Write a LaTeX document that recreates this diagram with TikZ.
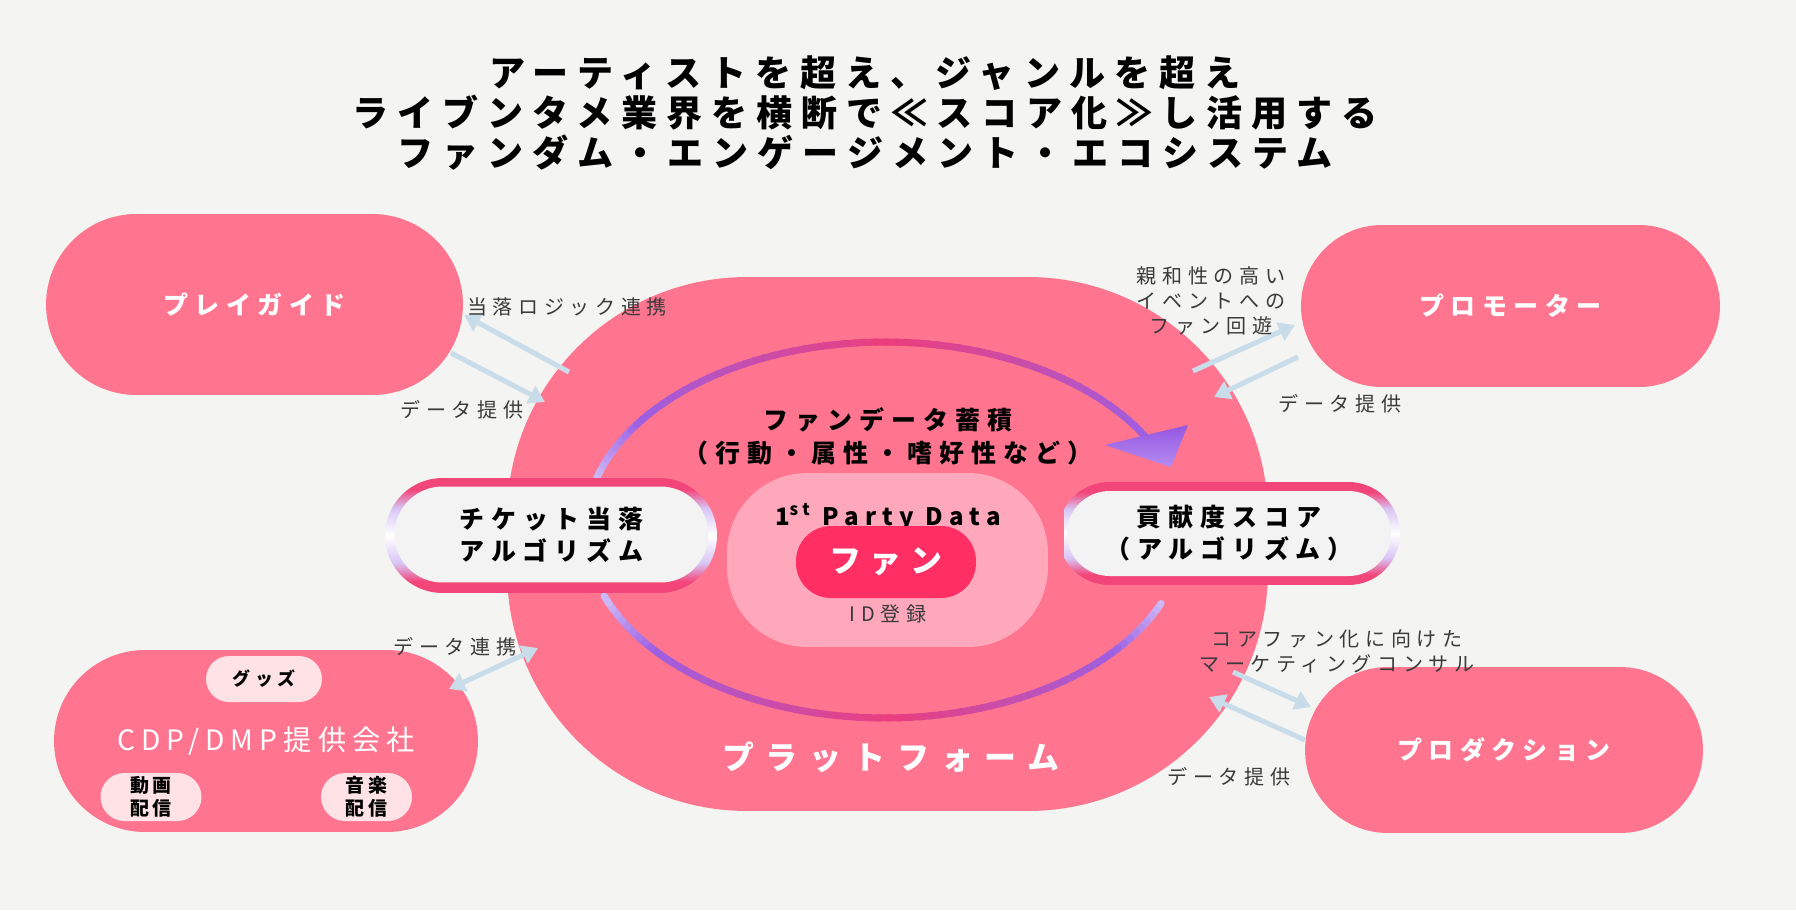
\documentclass[tikz,border=0pt]{standalone}
\usepackage{fontspec}
\usetikzlibrary{arrows.meta,shapes.misc}

\newfontfamily\jp{Noto Sans CJK JP}
\newcommand\jpset[3]{\jp\fontsize{#1}{#2}\selectfont\addfontfeature{LetterSpace=#3}}

\definecolor{bgc}{HTML}{F4F4F2}
\definecolor{pillc}{HTML}{FF758F}
\definecolor{innerc}{HTML}{FFA8BC}
\definecolor{fanc}{HTML}{FF2E63}
\definecolor{subc}{HTML}{FFE2E5}
\definecolor{corec}{HTML}{F3F3F3}
\definecolor{ringpink}{HTML}{F2467B}
\definecolor{ringlav}{HTML}{D8C4F4}
\definecolor{flowc}{HTML}{C9DCEA}
\definecolor{txtc}{HTML}{3A3A3A}
\definecolor{arcpink}{HTML}{EE3D7B}
\definecolor{arcpurp}{HTML}{9C5FE3}
\definecolor{arclav}{HTML}{CDB9F7}
\definecolor{headA}{HTML}{9555E0}
\definecolor{headB}{HTML}{B48CF2}

\pgfdeclareverticalshading{ringshade}{100bp}{color(0bp)=(ringpink); color(30bp)=(ringpink);
  color(38bp)=(ringlav); color(50bp)=(white); color(62bp)=(ringlav); color(70bp)=(ringpink);
  color(100bp)=(ringpink)}

\begin{document}
\begin{tikzpicture}[
  x=0.02cm, y=-0.02cm,
  >={Triangle[length=0.32cm, width=0.38cm]},
  pill/.style={rounded rectangle, fill=pillc, text=white, inner sep=0pt},
  sub/.style={rounded rectangle, fill=subc, align=center, inner sep=0pt,
    font=\bfseries\jpset{10.8pt}{13pt}{20}},
  ring/.style={rounded rectangle, shade, shading=ringshade, inner sep=0pt},
  core/.style={rounded rectangle, fill=corec, align=center, inner sep=0pt,
    font=\bfseries\jpset{14.2pt}{18.2pt}{28}},
  lbl/.style={font=\jpset{11.4pt}{14.2pt}{28}, text=txtc, align=center, inner sep=0pt},
  flow/.style={->, line width=0.1cm, draw=flowc},
  arcseg/.style={line width=0.14cm, line cap=round},
]
  \fill[bgc] (0,0) rectangle (1796,910);
  \useasboundingbox (0,0) rectangle (1796,910);

  \node[font=\bfseries\jpset{20.5pt}{23pt}{25}, align=center] (title) at (865,113)
    {アーティストを超え、ジャンルを超え\\ライブンタメ業界を横断で≪スコア化≫し活用する\\ファンダム・エンゲージメント・エコシステム};

  % platform and the four partners
  \node[fill=pillc, rounded corners=4.8cm, minimum width=15.22cm, minimum height=10.68cm, inner sep=0pt] (plat) at (887.5,544) {};
  \node[font=\bfseries\jpset{18.2pt}{20pt}{37}, text=white] (platlbl) at (891,757) {プラットフォーム};

  \node[pill, minimum width=8.34cm, minimum height=3.62cm, font=\bfseries\jpset{14.2pt}{16pt}{26}] (guide) at (254.5,304.5) {プレイガイド};
  \node[pill, minimum width=8.38cm, minimum height=3.24cm, font=\bfseries\jpset{14.2pt}{16pt}{26}] (promo) at (1510.5,306) {プロモーター};
  \node[pill, minimum width=8.48cm, minimum height=3.64cm, font=\jpset{16pt}{18pt}{22}] (cdp) at (266,741) {CDP/DMP提供会社};
  \node[pill, minimum width=7.96cm, minimum height=3.32cm, font=\bfseries\jpset{14.2pt}{16pt}{26}] (prod) at (1504,750) {プロダクション};

  \node[sub, minimum width=2.32cm, minimum height=0.92cm, font=\bfseries\jpset{10.2pt}{12pt}{25}] (goods) at (264,679) {グッズ};
  \node[sub, minimum width=2.02cm, minimum height=0.96cm] (movie) at (151,797) {動画\\配信};
  \node[sub, minimum width=1.82cm, minimum height=0.96cm] (music) at (366.5,797) {音楽\\配信};

  % cycle arcs, coloured segment by segment
  \foreach \a in {196,198,...,328} {
    \pgfmathsetmacro\d{ifthenelse(\a<270,(270-\a)/74,(\a-270)/80)}
    \pgfmathtruncatemacro\mp{100*max(0,1-\d/0.75)}
    \pgfmathtruncatemacro\ml{100*min(1,(1-\d)/0.25)}
    \draw[arcseg, draw=arcpink!\mp!arcpurp!\ml!arclav, shift={(885,530)}]
      (\a:300 and 188) -- (\a+2.5:300 and 188);
  }
  \foreach \a in {23,25,...,157} {
    \pgfmathsetmacro\d{ifthenelse(\a>90,(\a+2.5-90)/70,(90-\a)/67)}
    \pgfmathtruncatemacro\mp{100*max(0,1-\d/0.75)}
    \pgfmathtruncatemacro\ml{100*min(1,(1-\d)/0.25)}
    \draw[arcseg, draw=arcpink!\mp!arcpurp!\ml!arclav, shift={(885,530)}]
      (\a:300 and 188) -- (\a+2.5:300 and 188);
  }
  \shade[top color=headA, bottom color=headB] (1105,445) -- (1188,425) -- (1171,467) -- cycle;

  % centre: fan data
  \node[fill=innerc, rounded corners=1.6cm, minimum width=6.42cm, minimum height=3.48cm, inner sep=0pt] (pdata) at (887.5,560) {};
  \node[font=\bfseries\jpset{14.2pt}{18.8pt}{28}, align=center] (accum) at (888,436)
    {ファンデータ蓄積\\（行動・属性・嗜好性など）};
  \node[font=\bfseries\jpset{13.7pt}{16pt}{26}] (pdlbl) at (888,517) {1\textsuperscript{st} Party Data};
  \node[fill=fanc, rounded corners=0.7cm, minimum width=3.6cm, minimum height=1.44cm, text=white,
    font=\bfseries\jpset{18.2pt}{20pt}{28}] (fan) at (886,562) {ファン};
  \node[lbl] (idlbl) at (888,614) {ID登録};

  % algorithm boxes
  \node[ring, minimum width=6.64cm, minimum height=2.3cm] (tktring) at (551,535.5) {};
  \node[core, minimum width=6.28cm, minimum height=1.92cm] (ticket) at (551.5,534.5) {チケット当落\\アルゴリズム};
  \begin{scope}
    \clip (1064,400) rectangle (1420,700);
    \node[ring, minimum width=6.84cm, minimum height=2.06cm] (scrring) at (1229,533.5) {};
  \end{scope}
  \node[core, minimum width=6.48cm, minimum height=1.7cm] (score) at (1229,533.5) {貢献度スコア\\（アルゴリズム）};

  % data flows
  \foreach \n/\x/\y in {g1/569/372, g2/464/315, g3/451/353, g4/545/402,
      p1/1193/371, p2/1295/325, p3/1298/357, p4/1214/397,
      c1/449/689, c2/538/648, r1/1233/672, r2/1311/707, r3/1305/740, r4/1209/697}
    \coordinate (\n) at (\x,\y);
  \foreach \s/\t in {g1/g2, g3/g4, p1/p2, p3/p4, r1/r2, r3/r4}
    \draw[flow] (\s) -- (\t);
  \draw[flow, <->] (c1) -- (c2);

  \node[lbl] (lgd1) at (567,307) {当落ロジック連携};
  \node[lbl] (lgd2) at (462,410) {データ提供};
  \node[lbl] (lpr1) at (1211,301) {親和性の高い\\イベントへの\\ファン回遊};
  \node[lbl] (lpr2) at (1340,404) {データ提供};
  \node[lbl] (lcdp) at (455,647) {データ連携};
  \node[lbl] (lpd1) at (1337,651) {コアファン化に向けた\\マーケティングコンサル};
  \node[lbl] (lpd2) at (1229,777) {データ提供};
\end{tikzpicture}
\end{document}
